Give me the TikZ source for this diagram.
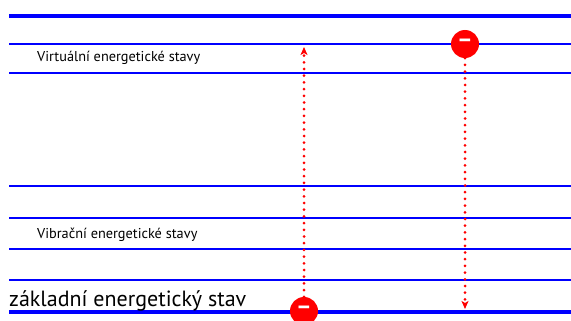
\documentclass[tikz,border=0pt]{standalone}
\usepackage{fontspec}
\setmainfont{PT Sans}
\usetikzlibrary{arrows.meta, positioning}

\begin{document}
\begin{tikzpicture}[
  x=1pt, y=-1pt,
  level/.style={draw=blue, line width=2pt},
  mainlevel/.style={draw=blue, line width=4pt},
  label/.style={anchor=base west, inner sep=0pt, font=\fontsize{14.3}{16}\selectfont},
  electron/.style={circle, fill=red, minimum size=28pt, inner sep=0pt, text=white,
    font=\fontsize{24}{24}\selectfont\bfseries},
  arrow/.style={draw=red, line width=3pt, line cap=round, dash pattern=on 0pt off 6.7pt,
    -{Stealth[length=8pt, width=7pt, inset=2pt, line cap=butt]}}
]
  \useasboundingbox (0,0) rectangle (571,321);
  \clip (0,0) rectangle (571,321);

  % Levels
  \draw[mainlevel] (9,16) -- (571,16);
  \foreach \y in {44,73,186,218,249,280}
    \draw[level] (9,\y) -- (571,\y);
  \draw[mainlevel] (9,312) -- (571,312);

  % Labels
  \node[label] (virt) at (37,62) {Virtuální energetické stavy};
  \node[label] (vib) at (37,238) {Vibrační energetické stavy};
  \node[label, font=\fontsize{22}{24}\selectfont] (ground) at (9,306) {základní energetický stav};

  % Electrons
  \node[electron] (e1) at (304,311) {\textminus};
  \node[electron] (e2) at (465,44) {\textminus};
  \coordinate (up) at (304,47);
  \coordinate (down) at (465,309);

  \draw[arrow] (e1) -- (up);
  \draw[arrow] (e2) -- (down);
\end{tikzpicture}
\end{document}
